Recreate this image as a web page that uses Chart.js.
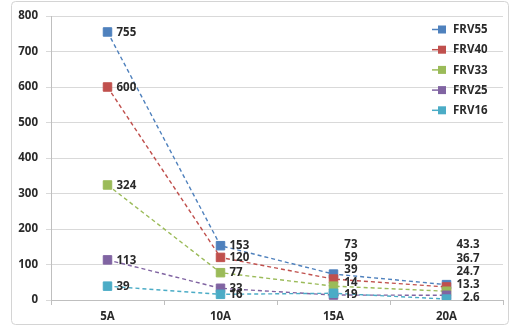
<!DOCTYPE html>
<html>
<head>
<meta charset="utf-8">
<script src="https://cdn.jsdelivr.net/npm/chart.js@4.4.1/dist/chart.umd.min.js"></script>
<style>
  html, body { margin: 0; padding: 0; background: #ffffff; }
  #wrap { width: 510px; height: 326px; position: relative; }
</style>
</head>
<body>
<div id="wrap"><canvas id="c" width="510" height="326"></canvas></div>
<script>
// ---- data ----
const categories = ['5A', '10A', '15A', '20A'];
const seriesNames = ['FRV55', 'FRV40', 'FRV33', 'FRV25', 'FRV16'];
const frv55 = [755, 153, 73, 43.3];
const frv40 = [600, 120, 59, 36.7];
const frv33 = [324, 77, 39, 24.7];
const frv25 = [113, 33, 14, 13.3];
const frv16 = [39, 16, 19, 2.6];
const yTicks = [0, 100, 200, 300, 400, 500, 600, 700, 800];

const seriesValues = [frv55, frv40, frv33, frv25, frv16];
const seriesColors = ['#4F81BD', '#C0504D', '#9BBB59', '#8064A2', '#4BACC6'];
const FONT = '"Open Sans", Lato, sans-serif';
const TEXT = '#2a2a2a';

const datasets = seriesNames.map((name, i) => ({
  label: name,
  data: seriesValues[i],
  borderColor: seriesColors[i],
  backgroundColor: seriesColors[i],
  borderWidth: 1.4,
  borderDash: [4, 3],
  pointStyle: 'rect',
  pointRadius: 6,
  pointBorderWidth: 1,
  pointBorderColor: seriesColors[i],
  pointBackgroundColor: seriesColors[i],
  tension: 0,
  order: seriesNames.length - i
}));

// frame around the whole chart
const framePlugin = {
  id: 'frame',
  beforeDraw(chart) {
    const ctx = chart.ctx;
    ctx.save();
    ctx.fillStyle = '#ffffff';
    ctx.fillRect(0, 0, chart.width, chart.height);
    ctx.strokeStyle = '#d4d4d4';
    ctx.lineWidth = 1;
    ctx.beginPath();
    ctx.roundRect(11.5, 1.5, 497, 323, 4);
    ctx.stroke();
    ctx.restore();
  }
};

// value labels
const labelPlugin = {
  id: 'vlabels',
  afterDatasetsDraw(chart) {
    const ctx = chart.ctx;
    ctx.save();
    ctx.font = 'bold 11.5px ' + FONT;
    ctx.fillStyle = TEXT;
    ctx.textBaseline = 'middle';
    const stackTop = 245;
    const stackStep = { 2: 12.5, 3: 13.3 };
    const stackDx = { 2: 24, 3: 33 };
    chart.data.datasets.forEach((ds, i) => {
      const meta = chart.getDatasetMeta(i);
      meta.data.forEach((pt, j) => {
        const txt = String(ds.data[j]);
        if (j < 2) {
          ctx.textAlign = 'left';
          ctx.fillText(txt, pt.x + 9, pt.y + 0.5);
        } else {
          ctx.textAlign = 'right';
          ctx.fillText(txt, pt.x + stackDx[j], stackTop + i * stackStep[j]);
        }
      });
    });
    ctx.restore();
  }
};

// legend inside plot, top-right
const legendPlugin = {
  id: 'insideLegend',
  afterDraw(chart) {
    const ctx = chart.ctx;
    ctx.save();
    ctx.font = 'bold 11.5px ' + FONT;
    ctx.textBaseline = 'middle';
    ctx.textAlign = 'left';
    chart.data.datasets.forEach((ds, i) => {
      const y = 29.5 + i * 20.2;
      ctx.strokeStyle = ds.borderColor;
      ctx.lineWidth = 1.5;
      ctx.beginPath();
      ctx.moveTo(432, y);
      ctx.lineTo(440, y);
      ctx.stroke();
      ctx.fillStyle = ds.borderColor;
      ctx.fillRect(438, y - 4, 8, 8);
      ctx.fillStyle = TEXT;
      ctx.fillText(ds.label, 453, y + 0.5);
    });
    ctx.restore();
  }
};

new Chart(document.getElementById('c'), {
  type: 'line',
  data: { labels: categories, datasets: datasets },
  options: {
    responsive: false,
    animation: false,
    devicePixelRatio: 1,
    layout: { padding: { left: 12, right: 7, top: 16, bottom: 2 } },
    plugins: {
      legend: { display: false },
      tooltip: { enabled: false }
    },
    scales: {
      x: {
        type: 'category',
        offset: true,
        afterFit(scale) { scale.height = 24; },
        grid: {
          offset: true,
          drawOnChartArea: false,
          drawTicks: true,
          tickLength: 5,
          color: '#bfbfbf'
        },
        border: { color: '#bfbfbf' },
        ticks: {
          color: TEXT,
          font: { family: FONT, size: 11.5, weight: 'bold' },
          padding: 5,
          maxRotation: 0
        }
      },
      y: {
        min: 0,
        max: 800,
        afterFit(scale) { scale.width = 39; },
        afterBuildTicks(scale) { scale.ticks = yTicks.map(v => ({ value: v })); },
        grid: {
          color: '#d9d9d9',
          tickLength: 5,
          drawTicks: true
        },
        border: { color: '#bfbfbf' },
        ticks: {
          color: TEXT,
          font: { family: FONT, size: 11.5, weight: 'bold' },
          padding: 8
        }
      }
    }
  },
  plugins: [framePlugin, labelPlugin, legendPlugin]
});
</script>
</body>
</html>
